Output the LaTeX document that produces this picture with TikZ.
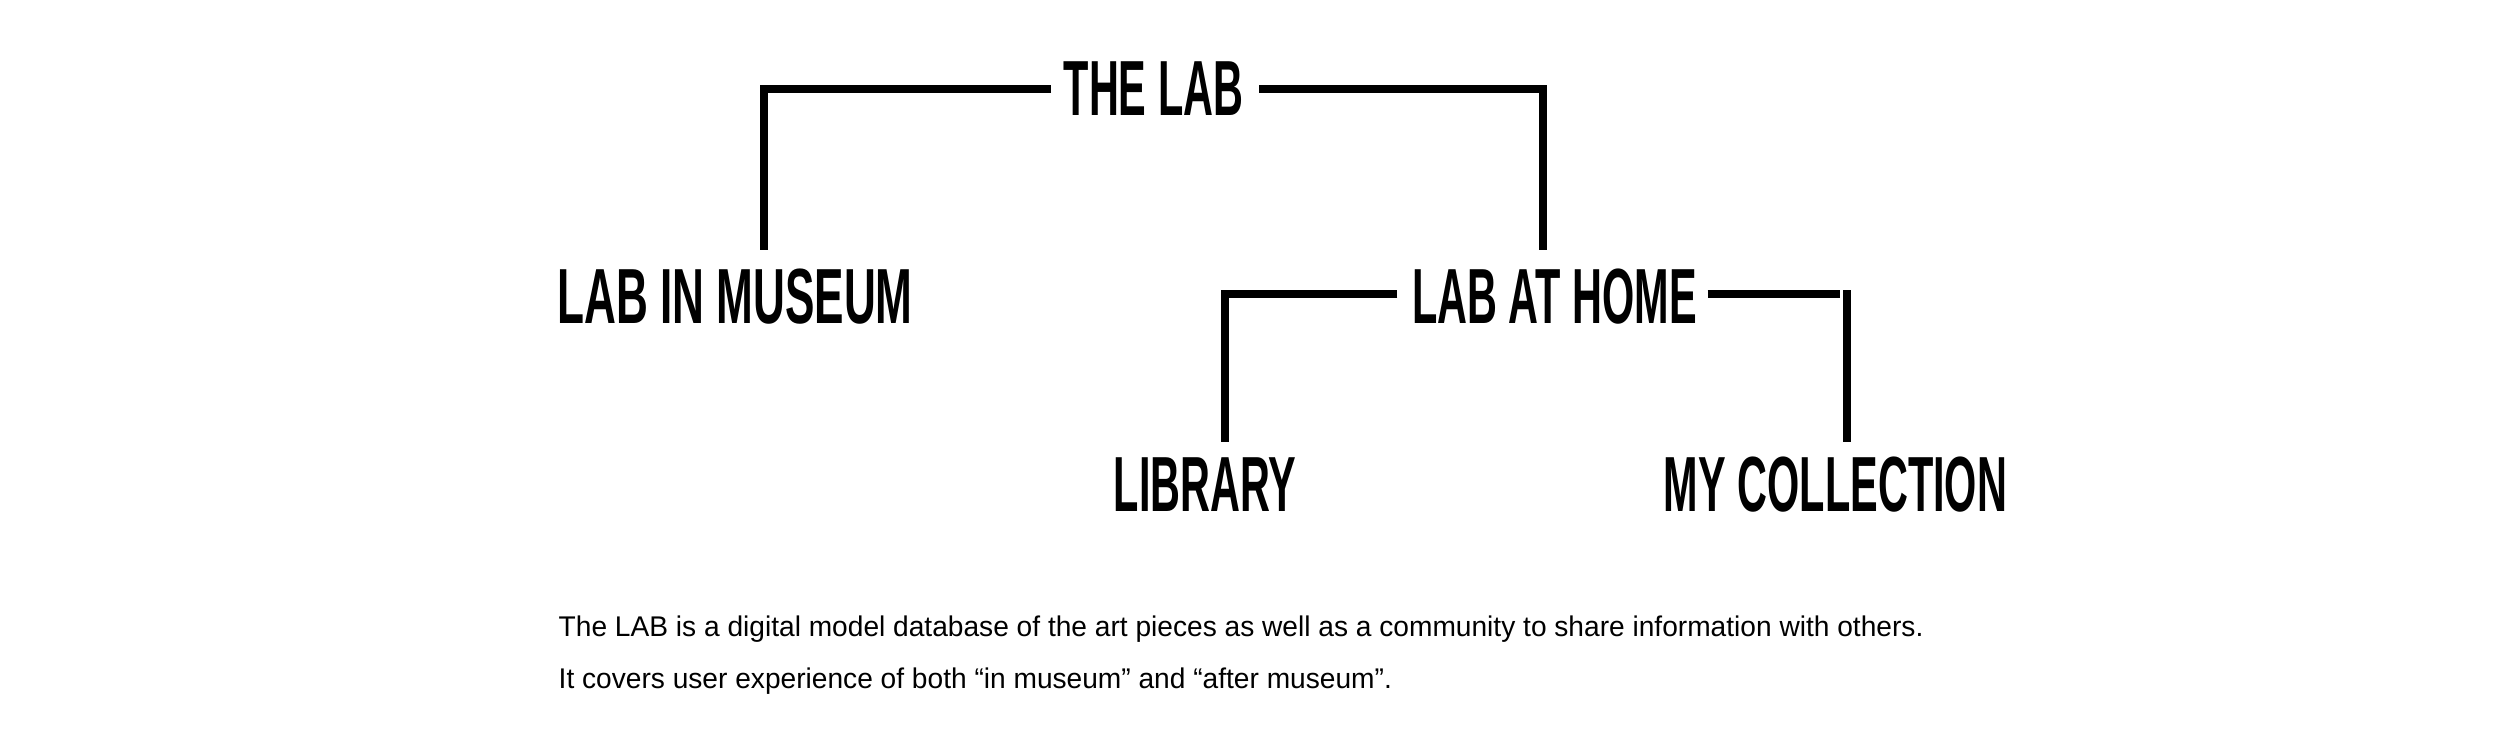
\documentclass[tikz,border=0pt]{standalone}
\usepackage{fontspec}
\setmainfont{Liberation Sans}
\newfontfamily\headfont[FakeStretch=0.53]{Liberation Sans}
\newfontfamily\bodyfont[FakeStretch=0.988]{Liberation Sans}
\begin{document}
\begin{tikzpicture}[
  head/.style={inner sep=0pt, anchor=base, font=\headfont\bfseries\fontsize{22.25}{24}\selectfont},
  body/.style={inner sep=0pt, anchor=base west, font=\bodyfont\fontsize{8.1}{10}\selectfont},
  link/.style={line width=2.1pt, line join=miter, line cap=butt}
]
\useasboundingbox (0,0) rectangle (25,-7.46);
\fill[white] (0,0) rectangle (25,-7.46);

\node[head] (top) at (11.535,-1.16) {THE LAB};
\node[head] (museum) at (7.35,-3.24) {\scalebox{1.065}[1]{LAB IN MUSEUM}};
\node[head] (home) at (15.545,-3.24) {LAB AT HOME};
\node[head] (library) at (12.05,-5.12) {LIBRARY};
\node[head] (collection) at (18.355,-5.12) {MY COLLECTION};

\coordinate (c1) at (7.64,-2.50);
\coordinate (c2) at (15.43,-2.50);
\coordinate (c3) at (12.25,-4.42);
\coordinate (c4a) at (18.40,-2.93);
\coordinate (c4c) at (18.47,-4.42);

\draw[link] ([xshift=-0.12cm]top.west) -| (c1);
\draw[link] ([xshift=0.15cm]top.east) -| (c2);
\draw[link] ([xshift=-0.14cm,yshift=0.03cm]home.west) -| (c3);
\draw[link] ([xshift=0.10cm,yshift=0.03cm]home.east) -- ([yshift=0.03cm]home.east -| c4a);
\draw[link] ([yshift=1.05pt]home.north -| c4c) ++(0,-0.251) -- (c4c);

\node[body] (t1) at (5.58,-6.37) {The LAB is a digital model database of the art pieces as well as a community to share information with others.};
\node[body] (t2) at (5.58,-6.89) {It covers user experience of both “in museum” and “after museum”.};
\end{tikzpicture}
\end{document}
